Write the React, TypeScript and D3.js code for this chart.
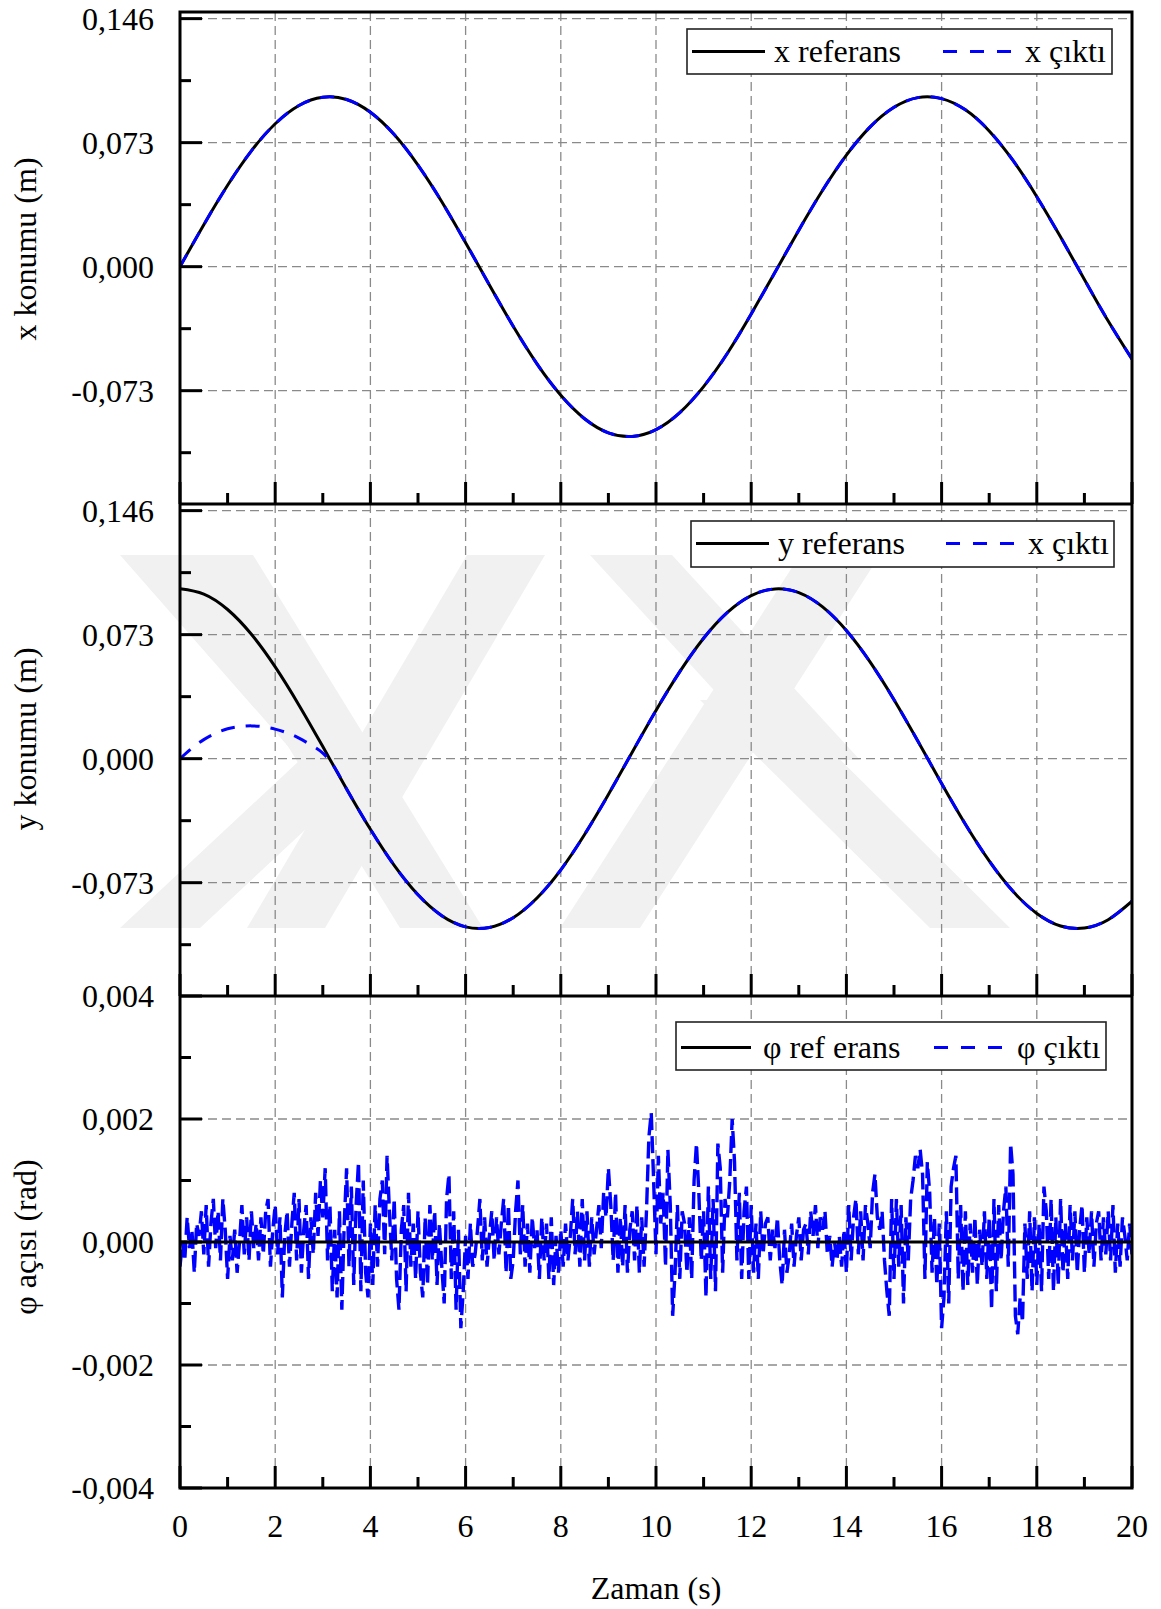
import React from 'react';
import * as d3 from 'd3';

// ---------- DATA ----------
const tCoarse = [0, 0.5, 1, 1.5, 2, 2.5, 3, 3.5, 4, 4.5, 5, 5.5, 6, 6.5, 7, 7.5, 8, 8.5, 9, 9.5, 10,
  10.5, 11, 11.5, 12, 12.5, 13, 13.5, 14, 14.5, 15, 15.5, 16, 16.5, 17, 17.5, 18, 18.5, 19, 19.5, 20];

const xRef = [0, 0.0247, 0.0479, 0.0682, 0.0841, 0.0949, 0.0997, 0.0984, 0.0909, 0.0778, 0.0598, 0.0382, 0.0141,
  -0.0108, -0.0351, -0.0572, -0.0757, -0.0895, -0.0978, -0.0999, -0.0959, -0.0859, -0.0706, -0.0510, -0.0279,
  -0.0033, 0.0215, 0.0450, 0.0657, 0.0823, 0.0938, 0.0995, 0.0989, 0.0923, 0.0799, 0.0625, 0.0412, 0.0174,
  -0.0075, -0.0320, -0.0544];
const xOut = [0, 0.0247, 0.0479, 0.0682, 0.0841, 0.0949, 0.0997, 0.0984, 0.0909, 0.0778, 0.0598, 0.0382, 0.0141,
  -0.0108, -0.0351, -0.0572, -0.0757, -0.0895, -0.0978, -0.0999, -0.0959, -0.0859, -0.0706, -0.0510, -0.0279,
  -0.0033, 0.0215, 0.0450, 0.0657, 0.0823, 0.0938, 0.0995, 0.0989, 0.0923, 0.0799, 0.0625, 0.0412, 0.0174,
  -0.0075, -0.0320, -0.0544];

const yRef = [0.1000, 0.0969, 0.0878, 0.0732, 0.0540, 0.0315, 0.0071, -0.0178, -0.0416, -0.0628, -0.0801, -0.0924,
  -0.0990, -0.0994, -0.0936, -0.0820, -0.0654, -0.0446, -0.0211, 0.0038, 0.0284, 0.0512, 0.0709, 0.0861, 0.0960,
  0.0999, 0.0977, 0.0893, 0.0754, 0.0568, 0.0347, 0.0104, -0.0146, -0.0386, -0.0602, -0.0781, -0.0911, -0.0985,
  -0.0997, -0.0948, -0.0839];

const tYOut = [0, 0.25, 0.5, 0.75, 1, 1.25, 1.5, 1.75, 2, 2.25, 2.5, 2.75, 3, 3.25, 3.5, 4, 4.5, 5, 5.5, 6, 6.5, 7,
  7.5, 8, 8.5, 9, 9.5, 10, 10.5, 11, 11.5, 12, 12.5, 13, 13.5, 14, 14.5, 15, 15.5, 16, 16.5, 17, 17.5, 18, 18.5,
  19, 19.5, 20];
const yOut = [0, 0.0062, 0.0112, 0.0150, 0.0176, 0.0189, 0.0193, 0.0188, 0.0174, 0.0152, 0.0121, 0.0081, 0.0033,
  -0.0052, -0.0178, -0.0416, -0.0628, -0.0801, -0.0924, -0.0990, -0.0994, -0.0936, -0.0820, -0.0654, -0.0446,
  -0.0211, 0.0038, 0.0284, 0.0512, 0.0709, 0.0861, 0.0960, 0.0999, 0.0977, 0.0893, 0.0754, 0.0568, 0.0347, 0.0104,
  -0.0146, -0.0386, -0.0602, -0.0781, -0.0911, -0.0985, -0.0997, -0.0948, -0.0839];

const tPhiRef = [0, 20];
const phiRef = [0, 0];

// phi output, read in units of 1e-4 rad, one value every 0.05 s
const phiOutE4 = [
  -4, 0, -3, 4, -1, 2, -5, 3, 1, 5, -2, 6, -4, 3, 7, -1, 5, -3, 7, 2,
  -6, 1, -3, 2, -5, 0, 6, -2, 4, -3, 5, -1, 3, -3, 4, -2, 5, 7, -4, 2,
  6, -2, 4, -9, 1, 5, -4, 3, 8, -3, 7, -5, 2, 6, -6, 4, -2, 8, 1, 10,
  4, 12, -3, 6, -8, 2, -9, 5, -11, 3, 12, -4, 9, -7, 6, 13, -8, 10, -5, -9,
  3, -7, 6, -4, 7, 10, -2, 14, 5, -3, 7, -6, -11, 2, 6, -8, 8, -4, 3, -6,
  5, -5, -9, 4, -7, 6, -3, 5, -7, 3, -4, -10, 7, 11, -6, 5, -11, 2, -14, -8,
  1, -6, 3, -4, -2, 2, 7, -3, 4, -4, 1, 5, -3, 4, -2, 3, 7, -5, 6, -6,
  -3, 5, 10, -2, 6, -4, 3, -5, 4, -1, 2, -6, 4, -3, 3, -6, 4, -7, 1, -5,
  2, -4, 3, -3, 1, 7, -2, 5, -4, 7, -3, 5, -4, 4, -2, 2, 6, -1, 8, 4,
  12, 6, -3, 8, -5, 4, -4, 6, -5, 2, 5, -3, 6, -5, 4, -4, 5, 17, 21, 10,
  -2, 14, 3, 8, -4, 15, 6, -12, -5, 6, -6, 5, 3, -5, 4, -6, 10, 16, 8, -3,
  5, -9, 9, -6, 7, -8, 16, 12, -5, 7, 4, 10, 20, 13, -3, 8, -6, 5, 9, -6,
  6, -5, 3, -6, 5, -2, 3, 4, -3, 2, -1, 4, -3, -7, 2, -5, -2, 3, -4, 1,
  4, -3, 2, 3, -2, 5, 1, 6, -1, 4, 2, 5, -2, 1, -4, 0, -3, 1, -4, 2,
  -5, 6, -3, 4, 7, -2, 5, -3, 6, 3, -1, 8, 11, 4, 2, 5, -3, -8, -12, 7,
  -6, 7, -4, 6, -10, 4, -3, 7, 10, 14, 12, 15, 11, -6, 13, 8, -5, 4, -7, 3,
  -14, -9, 5, -10, 9, 12, 14, -6, 6, -8, 5, -7, 3, -5, 4, -7, 2, -4, 5, -6,
  4, -11, 7, -8, 6, -3, 5, 9, -4, 16, 11, -12, -15, -9, -13, 3, -6, 5, -8, 4,
  -7, 3, -8, 9, 5, -6, 7, -8, 4, -7, 7, -5, 3, -6, 6, -3, 5, -5, 2, 6,
  -5, 4, -2, 5, -4, 3, 5, -3, 4, -2, 5, -3, 6, -5, 3, -4, 4, 1, -3, 3, -2,
];
const phiOut = phiOutE4.map((v) => v * 1e-4);
const tPhiOut = phiOutE4.map((_, i) => i * 0.05);

// ---------- AXES CONFIG ----------
const xMajor = [0, 2, 4, 6, 8, 10, 12, 14, 16, 18, 20];
const xMinor = [1, 3, 5, 7, 9, 11, 13, 15, 17, 19];
const posMajor = [-0.073, 0, 0.073, 0.146];
const posLabels = ['-0,073', '0,000', '0,073', '0,146'];
const posMinor = [-0.1095, -0.0365, 0.0365, 0.1095];
const phiMajor = [-0.004, -0.002, 0, 0.002, 0.004];
const phiLabels = ['-0,004', '-0,002', '0,000', '0,002', '0,004'];
const phiMinor = [-0.003, -0.001, 0.001, 0.003];

const posDomain = [-0.1397, 0.1499];
const phiDomain = [-0.004, 0.004];

const L = 180, R = 1132;
const FONT = "'Liberation Serif','Times New Roman',Times,serif";
const BLUE = '#0000ff';
const GRID = '#8a8a8a';

type Series = { t: number[]; v: number[] };
type Panel = {
  top: number; bottom: number; domain: number[];
  major: number[]; labels: string[]; minor: number[];
  title: string; titleY: number;
  ref: Series; out: Series; refOnTop: boolean; curve: any; outDash: string; outWidth: number;
  legend: { x0: number; x1: number; y0: number; y1: number; l1: [number, number]; t1x: number; l2: [number, number]; t2x: number; ly: number; ty: number; s1: string; s2: string };
};

const panels: Panel[] = [
  {
    top: 12, bottom: 504, domain: posDomain, major: posMajor, labels: posLabels, minor: posMinor,
    title: 'x konumu (m)', titleY: 249,
    ref: { t: tCoarse, v: xRef }, out: { t: tCoarse, v: xOut }, refOnTop: false, curve: d3.curveNatural,
    outDash: '14,11', outWidth: 3,
    legend: { x0: 687, x1: 1112, y0: 29, y1: 74, l1: [692, 765], t1x: 774, l2: [943, 1012], t2x: 1025, ly: 51.5, ty: 62, s1: 'x referans', s2: 'x çıktı' },
  },
  {
    top: 504, bottom: 996, domain: posDomain, major: posMajor, labels: posLabels, minor: posMinor,
    title: 'y konumu (m)', titleY: 739,
    ref: { t: tCoarse, v: yRef }, out: { t: tYOut, v: yOut }, refOnTop: false, curve: d3.curveNatural,
    outDash: '14,11', outWidth: 3,
    legend: { x0: 691, x1: 1114, y0: 521, y1: 567, l1: [696, 769], t1x: 778, l2: [946, 1014], t2x: 1028, ly: 543.5, ty: 554, s1: 'y referans', s2: 'x çıktı' },
  },
  {
    top: 996, bottom: 1488, domain: phiDomain, major: phiMajor, labels: phiLabels, minor: phiMinor,
    title: 'φ açısı (rad)', titleY: 1237,
    ref: { t: tPhiRef, v: phiRef }, out: { t: tPhiOut, v: phiOut }, refOnTop: true, curve: d3.curveLinear,
    outDash: '17,6', outWidth: 3.4,
    legend: { x0: 676, x1: 1106, y0: 1022, y1: 1070, l1: [681, 751], t1x: 763, l2: [934, 1003], t2x: 1017, ly: 1047.5, ty: 1058, s1: 'φ ref erans', s2: 'φ çıktı' },
  },
];

// decorative watermark (light grey chevrons in the middle panel)
const watermark: [number, number][][] = [
  [[120, 555], [200, 555], [380, 760], [200, 928], [120, 928], [300, 760]],
  [[170, 555], [253, 555], [483, 928], [400, 928]],
  [[467, 555], [545, 555], [325, 928], [247, 928]],
  [[590, 555], [672, 555], [860, 760], [778, 760]],
  [[800, 555], [880, 555], [640, 928], [560, 928]],
  [[700, 700], [780, 700], [1010, 928], [930, 928]],
];

function PanelView({ p, idx }: { p: Panel; idx: number }) {
  const x = d3.scaleLinear().domain([0, 20]).range([L, R]);
  const y = d3.scaleLinear().domain(p.domain).range([p.bottom, p.top]);
  const line = (s: Series) =>
    d3.line<number>().x((_, i) => x(s.t[i])).y((d) => y(d)).curve(p.curve)(s.v) || '';
  const clipId = `clip${idx}`;
  const refPath = <path d={line(p.ref)} fill="none" stroke="#000" strokeWidth={3} />;
  const outPath = <path d={line(p.out)} fill="none" stroke={BLUE} strokeWidth={p.outWidth} strokeDasharray={p.outDash} />;
  const lg = p.legend;
  const gridY = p.major.filter((v) => y(v) > p.top + 2 && y(v) < p.bottom - 2);
  return (
    <g>
      <defs>
        <clipPath id={clipId}>
          <rect x={L} y={p.top} width={R - L} height={p.bottom - p.top} />
        </clipPath>
      </defs>
      {/* grid */}
      {xMajor.filter((v) => v > 0 && v < 20).map((v) => (
        <line key={'gx' + v} x1={x(v)} x2={x(v)} y1={p.top} y2={p.bottom} stroke={GRID} strokeWidth={1.3} strokeDasharray="9,5" />
      ))}
      {gridY.map((v) => (
        <line key={'gy' + v} x1={L} x2={R} y1={y(v)} y2={y(v)} stroke={GRID} strokeWidth={1.3} strokeDasharray="9,5" />
      ))}
      {/* data */}
      <g clipPath={`url(#${clipId})`}>
        {p.refOnTop ? outPath : refPath}
        {p.refOnTop ? refPath : outPath}
      </g>
      {/* ticks */}
      {p.major.map((v) => (
        <line key={'ym' + v} x1={L} x2={L + 22} y1={y(v)} y2={y(v)} stroke="#000" strokeWidth={3} />
      ))}
      {p.minor.map((v) => (
        <line key={'yn' + v} x1={L} x2={L + 11} y1={y(v)} y2={y(v)} stroke="#000" strokeWidth={3} />
      ))}
      {xMajor.map((v) => (
        <line key={'xm' + v} x1={x(v)} x2={x(v)} y1={p.bottom} y2={p.bottom - 22} stroke="#000" strokeWidth={3} />
      ))}
      {xMinor.map((v) => (
        <line key={'xn' + v} x1={x(v)} x2={x(v)} y1={p.bottom} y2={p.bottom - 11} stroke="#000" strokeWidth={3} />
      ))}
      {/* tick labels */}
      {p.major.map((v, i) => (
        <text key={'yl' + v} x={154} y={y(v)} dy="0.34em" textAnchor="end" fontSize={32}>{p.labels[i]}</text>
      ))}
      {/* y title */}
      <text transform={`translate(36,${p.titleY}) rotate(-90)`} textAnchor="middle" fontSize={32}>{p.title}</text>
      {/* legend */}
      <rect x={lg.x0} y={lg.y0} width={lg.x1 - lg.x0} height={lg.y1 - lg.y0} fill="#fff" stroke="#222" strokeWidth={1.6} />
      <line x1={lg.l1[0]} x2={lg.l1[1]} y1={lg.ly} y2={lg.ly} stroke="#000" strokeWidth={3} />
      <text x={lg.t1x} y={lg.ty} fontSize={32}>{lg.s1}</text>
      <line x1={lg.l2[0]} x2={lg.l2[1]} y1={lg.ly} y2={lg.ly} stroke={BLUE} strokeWidth={3} strokeDasharray="14,13" />
      <text x={lg.t2x} y={lg.ty} fontSize={32}>{lg.s2}</text>
    </g>
  );
}

export default function App() {
  const x = d3.scaleLinear().domain([0, 20]).range([L, R]);
  return (
    <svg width={1161} height={1609} style={{ position: 'absolute', left: 0, top: 0, background: '#fff' }} fontFamily={FONT}>
      <rect x={0} y={0} width={1161} height={1609} fill="#fff" />
      <g fill="#f1f1f1">
        {watermark.map((pts, i) => (
          <polygon key={i} points={pts.map((q) => q.join(',')).join(' ')} />
        ))}
      </g>
      {panels.map((p, i) => <PanelView key={i} p={p} idx={i} />)}
      {/* frame */}
      <rect x={L} y={12} width={R - L} height={1488 - 12} fill="none" stroke="#000" strokeWidth={3} />
      <line x1={L} x2={R} y1={504} y2={504} stroke="#000" strokeWidth={3} />
      <line x1={L} x2={R} y1={996} y2={996} stroke="#000" strokeWidth={3} />
      {/* x tick labels */}
      {xMajor.map((v) => (
        <text key={'xl' + v} x={x(v)} y={1537} textAnchor="middle" fontSize={32}>{v}</text>
      ))}
      <text x={(L + R) / 2} y={1599} textAnchor="middle" fontSize={32}>Zaman (s)</text>
    </svg>
  );
}
